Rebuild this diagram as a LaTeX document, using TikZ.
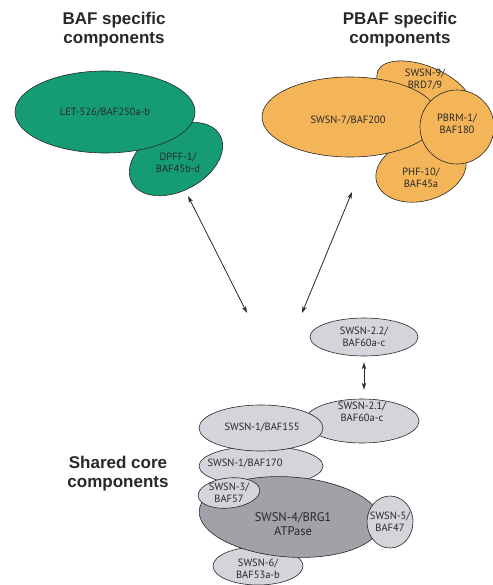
\documentclass[tikz,border=0pt]{standalone}
\usepackage{fontspec}
\newfontfamily\titlefont{Liberation Sans}
\newfontfamily\labelfont{PT Sans}
\usetikzlibrary{shapes, shapes.geometric, arrows.meta}

\definecolor{bafgreen}{RGB}{22,156,116}
\definecolor{pbaforange}{RGB}{244,180,88}
\definecolor{corelight}{RGB}{211,213,219}
\definecolor{coredark}{RGB}{160,162,167}
\definecolor{inkgray}{RGB}{40,40,42}

\tikzset{
    blob/.style={ellipse, draw=inkgray, line width=0.6pt, inner sep=0pt},
    greenblob/.style={blob, fill=bafgreen},
    orangeblob/.style={blob, fill=pbaforange},
    lightblob/.style={blob, fill=corelight},
    darkblob/.style={blob, fill=coredark},
    lbl/.style={font=\labelfont\fontsize{10.5}{12}\selectfont, text=inkgray, align=center, inner sep=0pt},
    heading/.style={font=\titlefont\bfseries\fontsize{17}{19}\selectfont, text=inkgray, align=center},
    dblarrow/.style={{Stealth[length=7pt,width=4.5pt]}-{Stealth[length=7pt,width=4.5pt]}, line width=0.8pt, draw=inkgray}
}

\begin{document}
\begin{tikzpicture}[x=1pt, y=-1pt]
        \useasboundingbox (0,0) rectangle (492,585);
        % Headings
        \node[heading] (bafhead) at (114,30) {BAF specific\\components};
        \node[heading] (pbafhead) at (400,30) {PBAF specific\\components};
        \node[heading] (corehead) at (118,474) {Shared core\\components};
        % BAF specific components
        \node[greenblob, rotate=28, minimum width=100pt, minimum height=64pt] (dpffshape) at (176,159) {};
        \node[greenblob, minimum width=180pt, minimum height=82pt] (let) at (105,112) {};
        \node[lbl] (lettext) at (let.center) {LET-526/BAF250a-b};
        \node[lbl] (dpfftext) at (178,163) {DPFF-1/\\BAF45b-d};
        % PBAF specific components
        \node[orangeblob, rotate=-22, minimum width=100pt, minimum height=48pt] (swsn9) at (424,90) {};
        \node[orangeblob, rotate=15, minimum width=92pt, minimum height=62pt] (phf10) at (421,170) {};
        \node[orangeblob, minimum width=176pt, minimum height=80pt] (swsn7) at (350,117) {};
        \node[orangeblob, circle, minimum size=74pt] (pbrm) at (457,127) {};
        \node[lbl] (swsn7text) at (348,120) {SWSN-7/BAF200};
        \node[lbl] (swsn9text) at (425,79) {SWSN-9/\\BRD7/9};
        \node[lbl] (pbrmtext) at (457,124) {PBRM-1/\\BAF180};
        \node[lbl] (phf10text) at (421,178) {PHF-10/\\BAF45a};
        % Shared core components
        \node[lightblob, minimum width=108pt, minimum height=38pt] (swsn22) at (364,337) {};
        \node[lbl] (swsn22text) at (swsn22.center) {SWSN-2.2/\\BAF60a-c};
        \node[lightblob, minimum width=90pt, minimum height=38pt] (swsn6) at (258,566) {};
        \node[lightblob, minimum width=124pt, minimum height=40pt] (swsn170) at (261,466) {};
        \node[lightblob, minimum width=114pt, minimum height=44pt] (swsn21) at (362,421) {};
        \node[lightblob, minimum width=124pt, minimum height=46pt] (swsn155) at (261,428) {};
        \node[darkblob, rotate=-4, minimum width=182pt, minimum height=80pt] (swsn4) at (290,517) {};
        \node[lightblob, rotate=6, minimum width=62pt, minimum height=30pt] (swsn3) at (229,493) {};
        \node[lightblob, minimum width=46pt, minimum height=52pt] (swsn5) at (390,522) {};
        \node[lbl] (swsn21text) at (362,412) {SWSN-2.1/\\BAF60a-c};
        \node[lbl] (swsn155text) at (262,427) {SWSN-1/BAF155};
        \node[lbl] (swsn170text) at (245,463) {SWSN-1/BAF170};
        \node[lbl] (swsn3text) at (229,493) {SWSN-3/\\BAF57};
        \node[lbl, font=\labelfont\fontsize{12.5}{14}\selectfont] (swsn4text) at (293,524) {SWSN-4/BRG1\\ATPase};
        \node[lbl] (swsn5text) at (390,522) {SWSN-5/\\BAF47};
        \node[lbl] (swsn6text) at (258,569) {SWSN-6/\\BAF53a-b};
        % Connectors
        \coordinate (baftip) at (188,196);
        \coordinate (pbaftip) at (352,192);
        \coordinate (coreleft) at (247,313);
        \coordinate (coreright) at (302,313);
        \draw[dblarrow] (baftip) -- (coreleft);
        \draw[dblarrow] (pbaftip) -- (coreright);
        \draw[dblarrow, shorten <=6pt, shorten >=9pt] (swsn22.south) -- (swsn22.south |- swsn21.north);
    \end{tikzpicture}
\end{document}
